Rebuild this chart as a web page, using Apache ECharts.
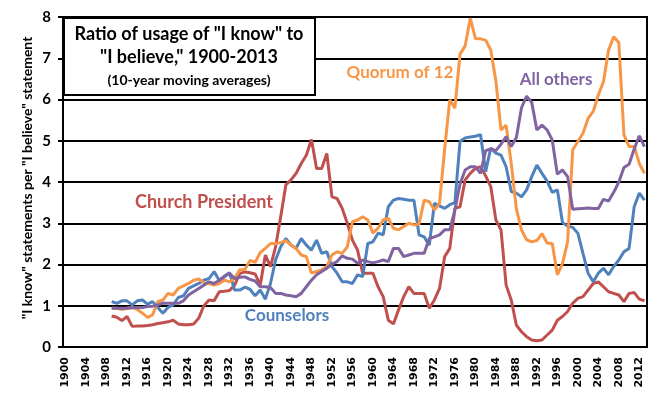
<!DOCTYPE html>
<html>
<head>
<meta charset="utf-8">
<script src="https://cdn.jsdelivr.net/npm/echarts@6/dist/echarts.min.js"></script>
<style>html,body{margin:0;padding:0;background:#fff}#c{width:664px;height:399px}</style>
</head>
<body>
<div id="c"></div>
<script>
// Categories: years 1900..2013; series start in 1909
const firstYear = 1900, lastYear = 2013, dataStart = 1909;
const years = [];
for (let y = firstYear; y <= lastYear; y++) years.push(String(y));

// 10-year moving averages, 1909..2013
const churchPresident = [
  0.75, 0.72, 0.64, 0.74, 0.50, 0.51, 0.51, 0.52, 0.54, 0.57, 0.59, // 1909-1919
  0.61, 0.65, 0.56, 0.54, 0.54, 0.56, 0.70, 1.00, 1.14, 1.12,       // 1920-1929
  1.34, 1.35, 1.37, 1.50, 1.78, 1.82, 1.80, 1.77, 1.50, 2.23,       // 1930-1939
  1.95, 2.43, 3.16, 3.93, 4.05, 4.21, 4.45, 4.65, 5.03, 4.33,       // 1940-1949
  4.33, 4.69, 3.64, 3.60, 3.36, 3.00, 2.59, 2.35, 1.79, 1.79,       // 1950-1959
  1.79, 1.46, 1.22, 0.65, 0.56, 0.90, 1.22, 1.46, 1.30, 1.30,       // 1960-1969
  1.30, 0.94, 1.14, 1.42, 2.19, 2.39, 3.36, 3.40, 4.05, 4.21,       // 1970-1979
  4.33, 4.37, 4.15, 3.89, 3.08, 2.84, 1.50, 1.14, 0.53, 0.37,       // 1980-1989
  0.25, 0.17, 0.15, 0.17, 0.29, 0.41, 0.65, 0.74, 0.86, 1.06,       // 1990-1999
  1.18, 1.22, 1.38, 1.54, 1.58, 1.46, 1.34, 1.30, 1.26, 1.10,       // 2000-2009
  1.30, 1.32, 1.16, 1.12                                            // 2010-2013
];
const counselors = [
  1.10, 1.06, 1.12, 1.12, 1.02, 1.12, 1.14, 1.04, 1.10, 0.96, 0.82,
  0.96, 1.02, 1.20, 1.24, 1.42, 1.48, 1.54, 1.62, 1.66, 1.83,
  1.61, 1.72, 1.80, 1.38, 1.38, 1.45, 1.40, 1.24, 1.38, 1.16,
  1.54, 2.11, 2.43, 2.63, 2.47, 2.39, 2.63, 2.47, 2.35, 2.59,
  2.27, 2.31, 1.95, 1.79, 1.58, 1.58, 1.54, 1.75, 1.71, 2.51,
  2.55, 2.76, 2.72, 3.40, 3.56, 3.60, 3.58, 3.56, 3.56, 2.72,
  2.67, 2.47, 3.48, 3.42, 3.36, 3.45, 3.50, 4.98, 5.07, 5.09,
  5.11, 5.15, 4.25, 4.82, 4.70, 4.65, 4.37, 3.77, 3.73, 3.64,
  3.81, 4.13, 4.41, 4.21, 4.02, 3.75, 3.81, 3.02, 2.93, 2.90,
  2.76, 2.27, 1.79, 1.58, 1.79, 1.91, 1.75, 1.95, 2.11, 2.31,
  2.39, 3.40, 3.73, 3.56
];
const quorumOf12 = [
  0.94, 0.94, 0.91, 0.94, 0.96, 0.91, 0.82, 0.72, 0.78, 1.10, 1.14,
  1.30, 1.26, 1.42, 1.48, 1.54, 1.62, 1.65, 1.56, 1.54, 1.50,
  1.54, 1.62, 1.58, 1.66, 1.87, 1.88, 2.10, 2.05, 2.29, 2.39,
  2.51, 2.51, 2.53, 2.58, 2.47, 2.39, 2.23, 2.19, 1.79, 1.83,
  1.87, 1.95, 2.23, 2.31, 2.27, 2.43, 3.04, 3.08, 3.16, 3.08,
  2.76, 2.88, 3.08, 3.12, 2.88, 2.84, 2.92, 3.00, 2.96, 2.98,
  3.56, 3.52, 3.32, 3.48, 4.80, 5.99, 5.79, 7.10, 7.30, 7.97,
  7.48, 7.47, 7.44, 7.20, 6.45, 5.26, 5.38, 4.45, 3.35, 2.84,
  2.60, 2.55, 2.58, 2.75, 2.52, 2.51, 1.75, 2.02, 2.55, 4.78,
  4.98, 5.18, 5.54, 5.71, 6.11, 6.43, 7.20, 7.52, 7.38, 5.14,
  4.86, 4.86, 4.45, 4.21
];
const allOthers = [
  0.94, 0.94, 0.94, 0.94, 0.95, 0.96, 0.96, 0.98, 0.99, 1.02, 1.06,
  1.06, 1.06, 1.06, 1.12, 1.26, 1.34, 1.42, 1.50, 1.58, 1.54,
  1.62, 1.70, 1.79, 1.66, 1.69, 1.70, 1.64, 1.60, 1.46, 1.46,
  1.44, 1.30, 1.30, 1.26, 1.24, 1.22, 1.30, 1.46, 1.62, 1.75,
  1.83, 1.91, 2.01, 2.07, 2.21, 2.15, 2.13, 2.03, 2.11, 2.07,
  2.04, 2.07, 2.11, 2.07, 2.39, 2.39, 2.19, 2.23, 2.27, 2.27,
  2.27, 2.63, 2.67, 2.72, 2.84, 2.84, 3.32, 3.95, 4.29, 4.37,
  4.37, 4.21, 4.76, 4.80, 4.76, 4.92, 5.10, 4.86, 5.08, 5.80,
  6.08, 5.93, 5.26, 5.38, 5.26, 5.02, 4.19, 4.29, 4.13, 3.34,
  3.35, 3.36, 3.37, 3.36, 3.36, 3.58, 3.54, 3.75, 4.00, 4.35,
  4.43, 4.80, 5.12, 4.86
];

const seriesNames = ['Church President', 'Counselors', 'Quorum of 12', 'All others'];
const seriesColors = ['#C0504D', '#4F81BD', '#F79646', '#8064A2'];
const seriesValues = [churchPresident, counselors, quorumOf12, allOthers];

const yTicks = { min: 0, max: 8, interval: 1 };
const titleLines = ['Ratio of usage of "I know" to', '"I believe," 1900-2013', '(10-year moving averages)'];
const yTitle = '"I know" statements per "I believe" statement';

function pad(vals) {
  const out = [];
  for (let y = firstYear; y < dataStart; y++) out.push(null);
  return out.concat(vals);
}

const chart = echarts.init(document.getElementById('c'), null, { renderer: 'canvas' });
const labelFont = 'Lato, "Open Sans", sans-serif';

chart.setOption({
  animation: false,
  backgroundColor: '#fff',
  grid: { left: 63, right: 17, top: 17, bottom: 52, show: true, borderColor: '#000', borderWidth: 2, backgroundColor: 'transparent' },
  xAxis: {
    type: 'category',
    data: years,
    boundaryGap: true,
    axisLine: { show: true, lineStyle: { color: '#000', width: 2 } },
    axisTick: { show: false },
    axisLabel: { interval: 3, rotate: 90, margin: 10, color: '#000', fontFamily: 'DejaVu Sans', fontWeight: 'bold', fontSize: 11 },
    splitLine: { show: false }
  },
  yAxis: {
    type: 'value',
    min: yTicks.min, max: yTicks.max, interval: yTicks.interval,
    axisLine: { show: true, lineStyle: { color: '#000', width: 2 } },
    axisTick: { show: true, length: 5, lineStyle: { color: '#000', width: 2 } },
    axisLabel: { margin: 12, color: '#000', fontFamily: labelFont, fontWeight: 'bold', fontSize: 15 },
    splitLine: { show: true, lineStyle: { color: '#000', width: 2 } }
  },
  series: seriesValues.map((vals, i) => ({
    name: seriesNames[i],
    type: 'line',
    data: pad(vals),
    symbol: 'none',
    smooth: false,
    connectNulls: false,
    lineStyle: { color: seriesColors[i], width: 3 },
    itemStyle: { color: seriesColors[i] },
    z: 3 + i
  })),
  graphic: [
    { type: 'rect', z: 100, shape: { x: 64, y: 18, width: 251, height: 77 }, style: { fill: '#fff', stroke: '#000', lineWidth: 2 } },
    { type: 'text', z: 101, x: 189, y: 34, style: { text: titleLines[0], font: 'bold 18px ' + labelFont, fill: '#000', textAlign: 'center', textVerticalAlign: 'middle' } },
    { type: 'text', z: 101, x: 189, y: 57, style: { text: titleLines[1], font: 'bold 18px ' + labelFont, fill: '#000', textAlign: 'center', textVerticalAlign: 'middle' } },
    { type: 'text', z: 101, x: 189, y: 80, style: { text: titleLines[2], font: 'bold 14px ' + labelFont, fill: '#000', textAlign: 'center', textVerticalAlign: 'middle' } },
    { type: 'text', z: 101, x: 27, y: 178, rotation: Math.PI / 2, style: { text: yTitle, font: 'bold 14px ' + labelFont, fill: '#000', textAlign: 'center', textVerticalAlign: 'middle' } },
    { type: 'text', z: 50, x: 204, y: 202, style: { text: seriesNames[0], font: 'bold 18px ' + labelFont, fill: seriesColors[0], textAlign: 'center', textVerticalAlign: 'middle' } },
    { type: 'text', z: 50, x: 287, y: 316, style: { text: seriesNames[1], font: 'bold 17px ' + labelFont, fill: seriesColors[1], textAlign: 'center', textVerticalAlign: 'middle' } },
    { type: 'text', z: 50, x: 400, y: 73, style: { text: seriesNames[2], font: 'bold 17px ' + labelFont, fill: seriesColors[2], textAlign: 'center', textVerticalAlign: 'middle' } },
    { type: 'text', z: 50, x: 556, y: 80, style: { text: seriesNames[3], font: 'bold 17px ' + labelFont, fill: seriesColors[3], textAlign: 'center', textVerticalAlign: 'middle' } }
  ]
});
</script>
</body>
</html>
